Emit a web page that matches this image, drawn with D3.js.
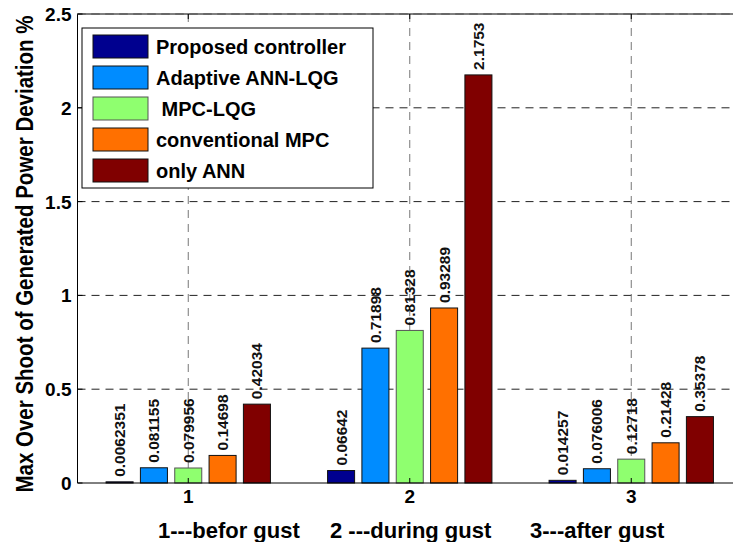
<!DOCTYPE html>
<html>
<head>
<meta charset="utf-8">
<script src="https://cdn.jsdelivr.net/npm/d3@7"></script>
<style>
  body { margin: 0; background: #fff; }
  text { font-family: "Liberation Sans", Arial, sans-serif; font-weight: bold; }
</style>
</head>
<body>
<div id="chart"></div>
<script>
// data
const groups = [1, 2, 3];
const seriesNames = ["Proposed controller", "Adaptive ANN-LQG", " MPC-LQG", "conventional MPC", "only ANN"];
const seriesColors = ["#00008f", "#008cff", "#8fff6f", "#ff7000", "#800000"];
const proposed = [0.0062351, 0.06642, 0.014257];
const adaptiveAnnLqg = [0.081155, 0.71898, 0.076006];
const mpcLqg = [0.079956, 0.81328, 0.12718];
const conventionalMpc = [0.14698, 0.93289, 0.21428];
const onlyAnn = [0.42034, 2.1753, 0.35378];
const labelTexts = [
  ["0.0062351", "0.06642", "0.014257"],
  ["0.081155", "0.71898", "0.076006"],
  ["0.079956", "0.81328", "0.12718"],
  ["0.14698", "0.93289", "0.21428"],
  ["0.42034", "2.1753", "0.35378"]
];
const yTicks = [0, 0.5, 1, 1.5, 2, 2.5];
const xLabelParts = ["1---befor gust", "2 ---during gust", "3---after gust"];
const allSeries = [proposed, adaptiveAnnLqg, mpcLqg, conventionalMpc, onlyAnn];

const W = 733, H = 542;
const svg = d3.select("#chart").append("svg")
  .attr("width", W).attr("height", H);

const x = d3.scaleLinear().domain([0.5, 3.5]).range([77.5, 742]);
const y = d3.scaleLinear().domain([0, 2.5]).range([483, 14]);
const pLeft = x(0.5), pRight = W + 20, pTop = y(2.5), pBottom = y(0);

// grid
svg.append("g").selectAll("line.h")
  .data(yTicks.filter(d => d > 0))
  .join("line")
    .attr("x1", pLeft).attr("x2", pRight)
    .attr("y1", d => y(d)).attr("y2", d => y(d))
    .attr("stroke", "#222").attr("stroke-dasharray", "8,6").attr("stroke-width", 1);
svg.append("g").selectAll("line.v")
  .data(groups)
  .join("line")
    .attr("x1", d => x(d)).attr("x2", d => x(d))
    .attr("y1", pTop).attr("y2", pBottom)
    .attr("stroke", "#777").attr("stroke-dasharray", "8,6").attr("stroke-width", 1);

// bars
const step = 0.155, bw = 0.122;
const data = [];
allSeries.forEach((s, i) => s.forEach((v, j) => data.push({i, j, v})));

svg.append("g").selectAll("rect")
  .data(data)
  .join("rect")
    .attr("x", d => x(groups[d.j] + (d.i - 2) * step - bw / 2))
    .attr("width", x(bw) - x(0))
    .attr("y", d => y(d.v))
    .attr("height", d => y(0) - y(d.v))
    .attr("fill", d => seriesColors[d.i])
    .attr("stroke", d => d.i == 2 ? "#555" : "#111")
    .attr("stroke-width", 1);

// value labels
svg.append("g").selectAll("text")
  .data(data)
  .join("text")
    .attr("transform", d => `translate(${x(groups[d.j] + (d.i - 2) * step) + 5.5},${y(d.v) - 5}) rotate(-90)`)
    .attr("font-size", 15.5)
    .attr("fill", "#111")
    .text(d => labelTexts[d.i][d.j]);

// axes box
svg.append("line").attr("x1", pLeft).attr("x2", pLeft).attr("y1", pTop).attr("y2", pBottom).attr("stroke", "#000");
svg.append("line").attr("x1", pLeft).attr("x2", pRight).attr("y1", pBottom).attr("y2", pBottom).attr("stroke", "#000");
svg.append("line").attr("x1", pLeft).attr("x2", pRight).attr("y1", pTop).attr("y2", pTop).attr("stroke", "#000");
svg.append("line").attr("x1", pLeft).attr("x2", pRight).attr("y1", pTop).attr("y2", pTop)
  .attr("stroke", "#888").attr("stroke-dasharray", "8,6");

// ticks
svg.append("g").selectAll("line")
  .data(yTicks)
  .join("line")
    .attr("x1", pLeft).attr("x2", pLeft + 5)
    .attr("y1", d => y(d)).attr("y2", d => y(d))
    .attr("stroke", "#000");
svg.append("g").selectAll("line")
  .data(groups)
  .join("line")
    .attr("x1", d => x(d)).attr("x2", d => x(d))
    .attr("y1", pTop).attr("y2", pTop + 5)
    .attr("stroke", "#000");
svg.append("g").selectAll("line")
  .data(groups)
  .join("line")
    .attr("x1", d => x(d)).attr("x2", d => x(d))
    .attr("y1", pBottom).attr("y2", pBottom - 5)
    .attr("stroke", "#000");

// tick labels
svg.append("g").selectAll("text")
  .data(yTicks)
  .join("text")
    .attr("x", pLeft - 6).attr("y", d => y(d) + 7)
    .attr("text-anchor", "end").attr("font-size", 19)
    .text(d => d);
svg.append("g").selectAll("text")
  .data(groups)
  .join("text")
    .attr("x", d => x(d)).attr("y", 503)
    .attr("text-anchor", "middle").attr("font-size", 19)
    .text(d => d);

// x axis label, three parts
const partX = [158, 330, 530];
svg.append("g").selectAll("text")
  .data(xLabelParts)
  .join("text")
    .attr("x", (d, i) => partX[i]).attr("y", 538)
    .attr("font-size", 22)
    .text(d => d);

// y axis label
svg.append("text")
  .attr("transform", "translate(33,254) rotate(-90) scale(1,1.17)")
  .attr("text-anchor", "middle").attr("font-size", 20.5)
  .text("Max Over Shoot of Generated Power Deviation %");

// legend
const lg = svg.append("g");
lg.append("rect").attr("x", 82).attr("y", 28).attr("width", 291).attr("height", 160)
  .attr("fill", "#fff").attr("stroke", "#000");
seriesNames.forEach((name, i) => {
  lg.append("rect").attr("x", 93).attr("y", 35 + i * 31).attr("width", 55).attr("height", 23)
    .attr("fill", seriesColors[i]).attr("stroke", i == 2 ? "#555" : "#111");
  lg.append("text").attr("x", 156).attr("y", 54 + i * 31).attr("font-size", 20)
    .attr("xml:space", "preserve").text(name);
});
</script>
</body>
</html>
